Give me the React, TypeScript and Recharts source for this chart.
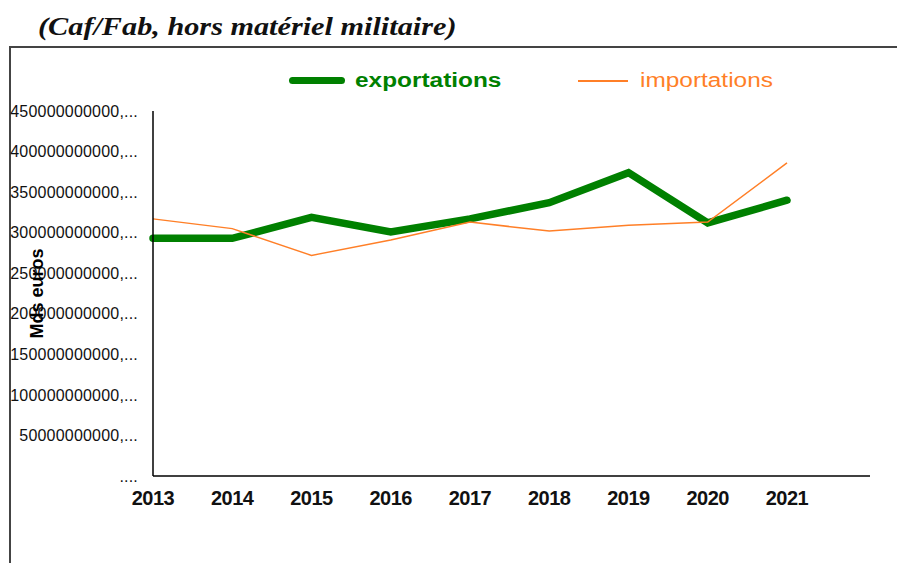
import React from 'react';
import { LineChart, Line, XAxis, YAxis } from 'recharts';

const years = ['2013', '2014', '2015', '2016', '2017', '2018', '2019', '2020', '2021'];
// values in euros
const exportations = [293e9, 293e9, 319e9, 301e9, 317e9, 337e9, 374e9, 312e9, 340e9];
const importations = [317e9, 305e9, 272e9, 291e9, 313e9, 302e9, 309e9, 313e9, 386e9];

const yTicks = [0, 50e9, 100e9, 150e9, 200e9, 250e9, 300e9, 350e9, 400e9, 450e9];
const yTickLabels = [
  '....',
  '50000000000,...',
  '100000000000,...',
  '150000000000,...',
  '200000000000,...',
  '250000000000,...',
  '300000000000,...',
  '350000000000,...',
  '400000000000,...',
  '450000000000,...',
];

const GREEN = '#008000';
const ORANGE = '#ff7f27';

const data = years.map((year, i) => ({
  year,
  exportations: exportations[i],
  importations: importations[i],
}));

const YTick = (props: any) => {
  const { x, y, payload } = props;
  const idx = yTicks.indexOf(payload.value);
  return (
    <text
      x={x}
      y={y}
      dy="0.355em"
      textAnchor="end"
      fontSize={16}
      letterSpacing={0.2}
      fill="#111"
      fontFamily="Arial, 'Liberation Sans', sans-serif"
    >
      {yTickLabels[idx]}
    </text>
  );
};

export default function App() {
  return (
    <div
      style={{
        position: 'absolute',
        left: 0,
        top: 0,
        width: 897,
        height: 563,
        background: '#fff',
        overflow: 'hidden',
        fontFamily: "Arial, 'Liberation Sans', sans-serif",
      }}
    >
      <div
        style={{
          position: 'absolute',
          left: 38,
          top: 13,
          fontFamily: "'Liberation Serif', 'Times New Roman', serif",
          fontWeight: 'bold',
          fontStyle: 'italic',
          fontSize: 25,
          color: '#111',
          whiteSpace: 'nowrap',
          transform: 'scaleX(1.21)',
          transformOrigin: 'left center',
        }}
      >
        (Caf/Fab, hors matériel militaire)
      </div>

      <div
        style={{
          position: 'absolute',
          left: 9,
          top: 46,
          width: 920,
          height: 560,
          borderLeft: '2px solid #444',
          borderTop: '2px solid #444',
        }}
      />

      {/* legend */}
      <div style={{ position: 'absolute', left: 289, top: 77, width: 56, height: 7, borderRadius: 4, background: GREEN }} />
      <div
        style={{
          position: 'absolute',
          left: 355,
          top: 70,
          fontSize: 20,
          lineHeight: '20px',
          fontWeight: 'bold',
          color: GREEN,
          whiteSpace: 'nowrap',
          transform: 'scaleX(1.22)',
          transformOrigin: 'left center',
        }}
      >
        exportations
      </div>
      <div style={{ position: 'absolute', left: 578, top: 80, width: 50, height: 1.5, background: ORANGE }} />
      <div
        style={{
          position: 'absolute',
          left: 640,
          top: 70,
          fontSize: 20,
          lineHeight: '20px',
          color: ORANGE,
          whiteSpace: 'nowrap',
          transform: 'scaleX(1.22)',
          transformOrigin: 'left center',
        }}
      >
        importations
      </div>

      <div style={{ position: 'absolute', left: 0, top: 0 }}>
        <LineChart width={897} height={563} data={data} margin={{ top: 111, right: 27, left: 0, bottom: 0 }}>
          <XAxis
            dataKey="year"
            height={87}
            padding={{ left: 0, right: 83 }}
            tickLine={false}
            tickSize={0}
            tickMargin={15}
            axisLine={{ stroke: '#000', strokeWidth: 1.5 }}
            tick={{ fill: '#111', fontSize: 20, fontWeight: 'bold', letterSpacing: -0.5 }}
            interval={0}
          />
          <YAxis
            width={153}
            domain={[0, 450e9]}
            ticks={yTicks}
            tickLine={false}
            tickSize={0}
            tickMargin={15}
            axisLine={{ stroke: '#000', strokeWidth: 1.5 }}
            tick={<YTick />}
            interval={0}
            label={{
              value: 'Mds euros',
              angle: -90,
              position: 'insideLeft',
              offset: 37,
              style: { textAnchor: 'middle', fontWeight: 'bold', fontSize: 18, fill: '#000' },
            }}
          />
          <Line
            type="linear"
            dataKey="exportations"
            stroke={GREEN}
            strokeWidth={7.5}
            strokeLinecap="round"
            dot={false}
            activeDot={false}
            isAnimationActive={false}
          />
          <Line
            type="linear"
            dataKey="importations"
            stroke={ORANGE}
            strokeWidth={1.5}
            dot={false}
            activeDot={false}
            isAnimationActive={false}
          />
        </LineChart>
      </div>
    </div>
  );
}
